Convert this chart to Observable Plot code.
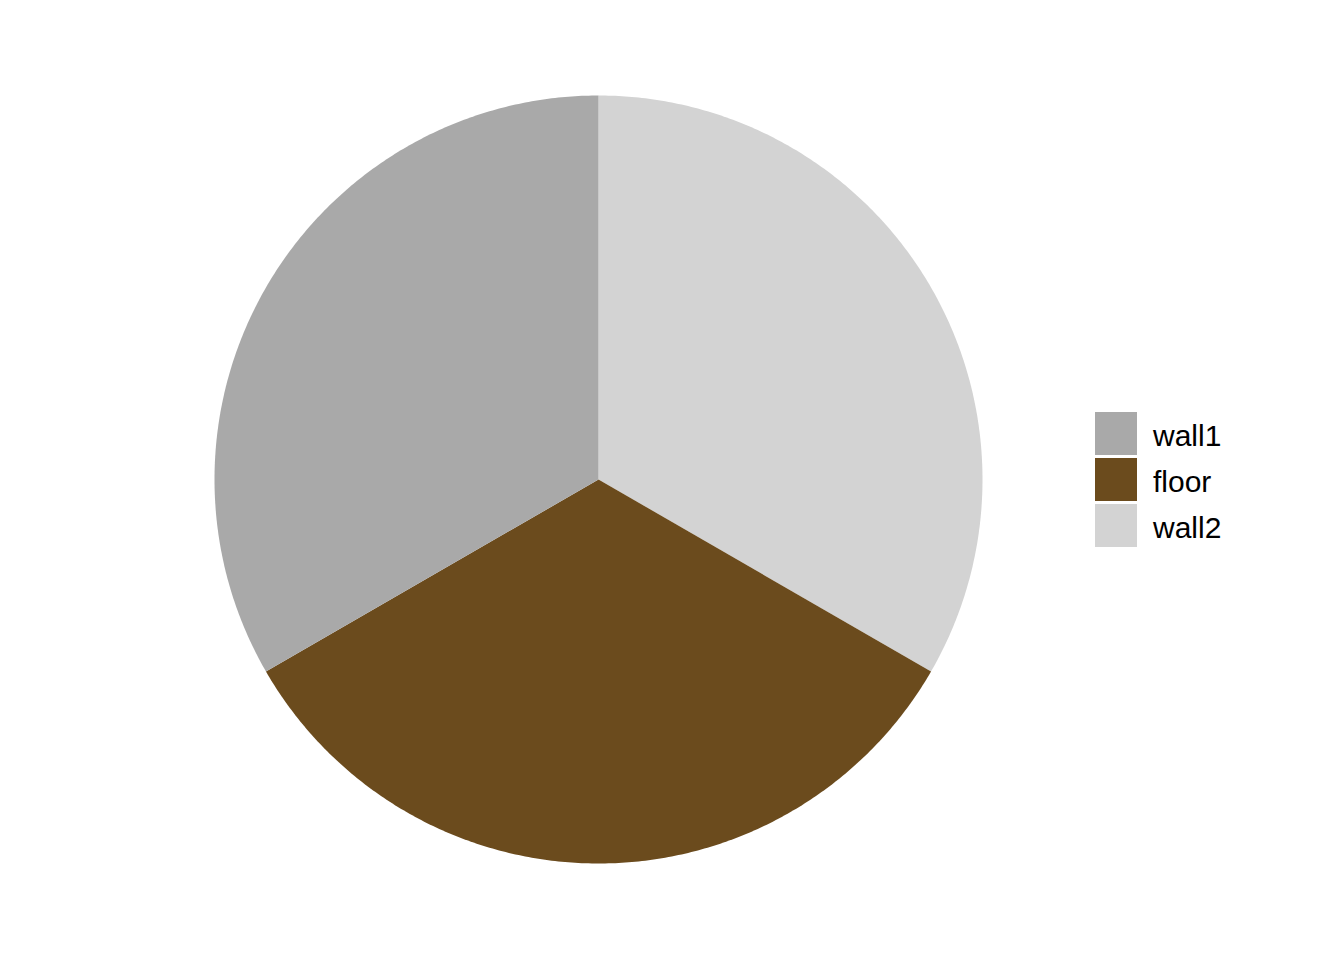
<!DOCTYPE html>
<html>
<head>
<meta charset="utf-8">
<script src="https://cdn.jsdelivr.net/npm/d3@7"></script>
<script src="https://cdn.jsdelivr.net/npm/@observablehq/plot@0.6"></script>
<style>
  html, body { margin: 0; padding: 0; background: #fff; }
  #wrap { position: relative; width: 1344px; height: 960px; overflow: hidden; }
  #legend { position: absolute; left: 1095px; top: 412px; font-family: "Liberation Sans", Arial, sans-serif; font-size: 30px; color: #000; }
  .row { display: flex; align-items: center; height: 43px; margin-bottom: 3px; }
  .row span { position: relative; top: 2px; }
  .key { width: 42px; height: 43px; margin-right: 16px; }
</style>
</head>
<body>
<div id="wrap"></div>
<script>
// Data
const categories = ["wall1", "floor", "wall2"];
const values = [1, 1, 1];
const colors = ["#A9A9A9", "#6B4B1D", "#D3D3D3"];

// Pie angles (clockwise from top; last category first, as in the reference)
const order = categories.map((c, i) => ({key: c, value: values[i]})).reverse();
const arcs = d3.pie().sort(null).value(d => d.value)(order);

const pts = [];
for (const a of arcs) {
  const n = 240;
  pts.push({key: a.data.key, x: 0, y: 0});
  for (let i = 0; i <= n; i++) {
    const t = a.startAngle + (a.endAngle - a.startAngle) * i / n;
    pts.push({key: a.data.key, x: Math.sin(t), y: Math.cos(t)});
  }
  pts.push({key: a.data.key, x: 0, y: 0});
}

const chart = Plot.plot({
  width: 1344,
  height: 960,
  marginLeft: 214,
  marginRight: 362,
  marginTop: 95,
  marginBottom: 97,
  x: {domain: [-1, 1], axis: null},
  y: {domain: [-1, 1], axis: null},
  color: {domain: categories, range: colors},
  style: {background: "#fff"},
  marks: [
    Plot.line(pts, {x: "x", y: "y", z: "key", fill: "key", stroke: "none", curve: "linear"})
  ]
});

const wrap = document.getElementById("wrap");
wrap.appendChild(chart);

const legend = document.createElement("div");
legend.id = "legend";
categories.forEach((c, i) => {
  const row = document.createElement("div");
  row.className = "row";
  const key = document.createElement("div");
  key.className = "key";
  key.style.background = colors[i];
  const lab = document.createElement("span");
  lab.textContent = c;
  row.appendChild(key);
  row.appendChild(lab);
  legend.appendChild(row);
});
wrap.appendChild(legend);
</script>
</body>
</html>
